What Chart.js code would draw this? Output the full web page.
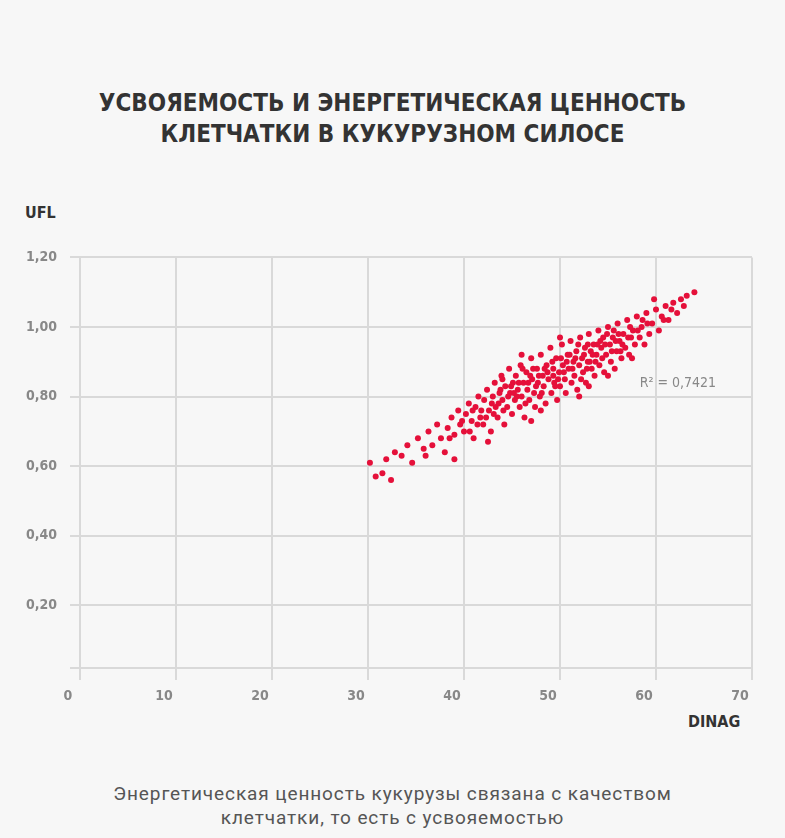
<!DOCTYPE html>
<html lang="ru">
<head>
  <meta charset="UTF-8" />
  <title>Усвояемость и энергетическая ценность клетчатки</title>
  <script src="https://cdn.jsdelivr.net/npm/chart.js"></script>
  <style>
    body { margin: 0; width: 785px; height: 838px; background: #f7f7f7; position: relative; overflow: hidden; font-family: "DejaVu Sans Condensed", "DejaVu Sans", sans-serif; }
    .titulo { position: absolute; top: 88px; left: 0; width: 785px; text-align: center; color: #333; font-weight: bold; font-size: 24px; line-height: 31px; }
    .eixo { position: absolute; color: #333; font-weight: bold; font-size: 16px; }
    .legenda { position: absolute; top: 782px; left: 0; width: 785px; text-align: center; color: #555; font-family: Roboto, sans-serif; font-size: 19px; letter-spacing: 0.9px; line-height: 24px; }
    .caixa { position: absolute; top: 236px; left: 0; width: 785px; height: 484px; }
  </style>
</head>
<body>
  <div class="titulo">УСВОЯЕМОСТЬ И ЭНЕРГЕТИЧЕСКАЯ ЦЕННОСТЬ<br>КЛЕТЧАТКИ В КУКУРУЗНОМ СИЛОСЕ</div>
  <div class="eixo" style="left:25px; top:203px;">UFL</div>
  <div class="eixo" style="left:688px; top:712px;">DINAG</div>
  <div class="caixa"><canvas id="grafico"></canvas></div>
  <div class="legenda">Энергетическая ценность кукурузы связана с качеством<br>клетчатки, то есть с усвояемостью</div>

  <script>
    const ticksX = [0, 10, 20, 30, 40, 50, 60, 70];
    const ticksY = [0.2, 0.4, 0.6, 0.8, 1.0, 1.2];
    const r2Texto = 'R² = 0,7421';

    const dinag = [30.2,30.8,31.5,31.9,32.4,32.8,33.5,34.1,34.6,35.2,35.8,36.3,36.7,37.2,37.6,38.0,38.3,38.7,39.0,39.4,39.6,40.0,40.2,40.5,40.8,41.0,41.2,41.5,41.7,42.0,42.1,42.4,42.6,42.8,43.0,43.2,43.3,43.5,43.7,43.9,44.0,44.2,44.3,44.5,44.7,44.8,45.0,45.1,45.3,45.4,45.6,45.8,45.9,46.0,46.2,46.3,46.5,46.6,46.8,47.0,47.1,47.3,47.4,47.6,47.7,47.9,48.0,48.2,48.3,48.5,48.6,48.8,49.0,49.1,49.3,49.4,49.6,49.7,49.9,50.0,50.2,50.3,50.5,50.6,50.8,50.9,51.1,51.2,51.4,51.5,51.7,51.8,52.0,52.1,52.3,52.4,52.6,52.7,52.9,53.0,53.2,53.3,53.5,53.6,53.8,54.0,54.1,54.3,54.5,54.6,54.8,55.0,55.2,55.3,55.5,55.7,55.9,56.0,56.2,56.4,56.6,56.8,57.0,57.2,57.4,57.6,57.8,58.0,58.3,58.5,58.8,59.0,59.3,59.6,60.0,60.3,60.6,61.0,61.3,61.8,62.2,62.6,63.2,64.0,59.8,57.5,53.0,48.0,44.0,46.0,50.0,42.5,39.0,36.0,52.0,55.0,47.0,
      43.6,44.6,45.7,46.4,46.9,47.5,48.1,48.7,49.2,49.8,50.4,50.7,51.3,51.6,52.2,52.5,53.1,53.4,53.9,54.4,54.7,55.4,55.8,56.5,57.1,58.1,45.2,44.1,43.1,42.3,41.4,40.6,46.7,47.8,49.5,51.0,52.8,54.2,56.1,58.6,
      41.8,42.9,43.8,44.9,45.5,46.1,47.2,48.4,49.3,50.1,51.9,52.9,53.7,54.9,55.6,56.3,57.3,59.1,60.8,61.6,62.9,40.9,39.8,38.5];
    const ufl = [0.61,0.57,0.58,0.62,0.56,0.64,0.63,0.66,0.61,0.68,0.65,0.70,0.66,0.72,0.68,0.64,0.71,0.74,0.69,0.76,0.72,0.70,0.75,0.78,0.73,0.68,0.77,0.80,0.74,0.72,0.79,0.82,0.76,0.70,0.80,0.84,0.77,0.74,0.81,0.86,0.79,0.72,0.83,0.77,0.88,0.81,0.75,0.84,0.79,0.86,0.82,0.77,0.89,0.80,0.84,0.74,0.87,0.82,0.79,0.91,0.85,0.81,0.77,0.88,0.84,0.80,0.92,0.86,0.83,0.78,0.89,0.85,0.94,0.81,0.88,0.84,0.91,0.79,0.87,0.83,0.95,0.89,0.85,0.81,0.92,0.88,0.96,0.84,0.90,0.86,0.93,0.82,0.89,0.97,0.91,0.87,0.94,0.84,0.90,0.98,0.93,0.88,0.95,0.86,0.92,0.99,0.89,0.94,0.97,0.87,0.92,1.00,0.95,0.90,0.97,0.88,0.93,1.01,0.96,0.91,0.98,0.94,1.02,0.92,0.97,0.99,0.95,1.03,0.97,1.00,0.95,1.04,0.98,1.01,1.05,0.99,1.03,1.06,1.02,1.07,1.04,1.08,1.09,1.10,1.08,0.91,0.83,0.76,0.85,0.92,0.97,0.67,0.62,0.63,0.80,0.86,0.73,
      0.78,0.80,0.84,0.78,0.86,0.83,0.81,0.87,0.90,0.85,0.87,0.90,0.88,0.91,0.85,0.92,0.90,0.92,0.95,0.91,0.95,0.93,0.96,0.95,0.97,0.99,0.81,0.76,0.75,0.74,0.72,0.70,0.84,0.86,0.83,0.92,0.88,0.96,0.98,1.02,
      0.76,0.78,0.82,0.83,0.80,0.88,0.88,0.88,0.86,0.91,0.95,0.95,0.90,0.98,0.99,0.93,1.00,1.01,1.02,1.05,1.06,0.76,0.73,0.68];

    const pontos = dinag.map((x, i) => ({ x: x, y: ufl[i] }));

    const fonteTick = { family: '"DejaVu Sans Condensed", "DejaVu Sans", sans-serif', size: 14, weight: 'bold' };

    const textoR2 = {
      id: 'textoR2',
      afterDatasetsDraw(chart) {
        const ctx = chart.ctx;
        const px = chart.scales.x.getPixelForValue(58.3);
        const py = chart.scales.y.getPixelForValue(0.837);
        ctx.save();
        ctx.fillStyle = '#888';
        ctx.font = '14px "DejaVu Sans Condensed", "DejaVu Sans", sans-serif';
        ctx.textBaseline = 'middle';
        ctx.fillText(r2Texto, px, py);
        ctx.restore();
      }
    };

    new Chart(document.getElementById('grafico'), {
      type: 'scatter',
      data: {
        datasets: [{
          data: pontos,
          backgroundColor: '#e5103a',
          borderWidth: 0,
          pointRadius: 3,
        }],
      },
      options: {
        responsive: true,
        maintainAspectRatio: false,
        animation: false,
        layout: { padding: { top: 20, right: 33, left: 0, bottom: 0 } },
        plugins: { legend: { display: false }, tooltip: { enabled: false } },
        scales: {
          x: {
            min: 0, max: 70,
            afterBuildTicks: s => { s.ticks = ticksX.map(v => ({ value: v })); },
            afterFit: s => { s.height = 52; },
            grid: { color: '#d9d9d9', lineWidth: 2, tickLength: 12 },
            border: { display: false },
            ticks: { color: '#888', font: fonteTick, padding: 8, labelOffset: -12, maxRotation: 0 },
          },
          y: {
            min: 0.02, max: 1.2,
            afterBuildTicks: s => { s.ticks = ticksY.map(v => ({ value: v })); },
            afterFit: s => { s.width = 80; },
            grid: { color: '#d9d9d9', lineWidth: 2, tickLength: 10 },
            border: { color: '#d9d9d9', width: 2 },
            ticks: {
              color: '#888', font: fonteTick, padding: 13,
              callback: v => v.toFixed(2).replace('.', ','),
            },
          },
        },
      },
      plugins: [textoR2, {
        id: 'linhaBase',
        afterDraw(chart) {
          const a = chart.chartArea, ctx = chart.ctx;
          ctx.save();
          ctx.strokeStyle = '#d9d9d9';
          ctx.lineWidth = 2;
          ctx.beginPath();
          ctx.moveTo(a.left - 10, a.bottom);
          ctx.lineTo(a.right, a.bottom);
          ctx.stroke();
          ctx.restore();
        }
      }],
    });
  </script>
</body>
</html>
